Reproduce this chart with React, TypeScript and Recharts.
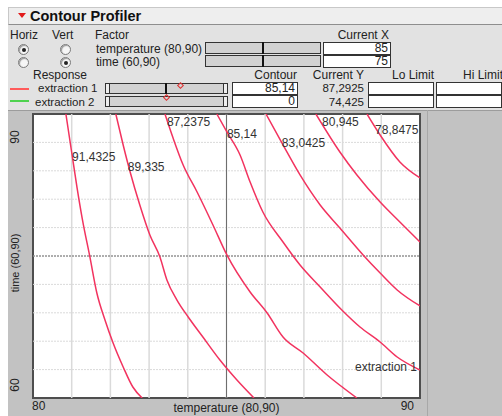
import React from 'react';
import { LineChart, Line, XAxis, YAxis, ReferenceLine, ReferenceArea, ReferenceDot } from 'recharts';

// contour levels of extraction 1, left to right
const contourLabels = ['91,4325', '89,335', '87,2375', '85,14', '83,0425', '80,945', '78,8475'];

// traced contour points: T = temperature, t = time
const contour1 = [
  { T: 80.85, t: 90 }, { T: 81.01, t: 85.67 }, { T: 81.14, t: 82.18 }, { T: 81.27, t: 79.01 },
  { T: 81.47, t: 74.9 }, { T: 81.65, t: 71.09 }, { T: 81.86, t: 68.24 }, { T: 82.07, t: 65.81 },
  { T: 82.33, t: 63.28 }, { T: 82.58, t: 61.16 }, { T: 82.82, t: 60 },
];
const contour2 = [
  { T: 82.14, t: 90 }, { T: 82.33, t: 86.73 }, { T: 82.51, t: 83.87 }, { T: 82.76, t: 80.39 },
  { T: 83.02, t: 77.22 }, { T: 83.28, t: 74.9 }, { T: 83.46, t: 72.47 }, { T: 83.72, t: 70.35 },
  { T: 84.01, t: 68.56 }, { T: 84.39, t: 66.44 }, { T: 84.83, t: 64.01 }, { T: 85.27, t: 61.9 },
  { T: 85.71, t: 60 },
];
const contour3 = [
  { T: 83.41, t: 90 }, { T: 83.62, t: 87.46 }, { T: 83.88, t: 84.61 }, { T: 84.24, t: 81.76 },
  { T: 84.65, t: 78.28 }, { T: 85.01, t: 75.11 }, { T: 85.61, t: 71.2 }, { T: 86.05, t: 68.98 },
  { T: 86.46, t: 66.44 }, { T: 86.98, t: 64.75 }, { T: 87.6, t: 62.43 }, { T: 88.37, t: 60 },
];
const contour4 = [
  { T: 84.75, t: 90 }, { T: 85.01, t: 88.1 }, { T: 85.35, t: 85.67 }, { T: 85.61, t: 82.82 },
  { T: 85.94, t: 79.65 }, { T: 86.46, t: 76.48 }, { T: 86.9, t: 74.05 }, { T: 87.42, t: 71.73 },
  { T: 87.98, t: 69.3 }, { T: 88.45, t: 67.5 }, { T: 88.97, t: 65.92 }, { T: 89.41, t: 64.33 },
  { T: 90, t: 62.96 },
];
const contour5 = [
  { T: 86.02, t: 90 }, { T: 86.46, t: 86.73 }, { T: 86.9, t: 83.56 }, { T: 87.42, t: 80.39 },
  { T: 87.93, t: 77.96 }, { T: 88.53, t: 75.11 }, { T: 88.97, t: 73.2 }, { T: 89.41, t: 71.41 },
  { T: 90, t: 69.72 },
];
const contour6 = [
  { T: 87.31, t: 90 }, { T: 87.93, t: 85.99 }, { T: 88.37, t: 83.56 }, { T: 88.97, t: 80.7 },
  { T: 89.48, t: 78.59 }, { T: 90, t: 76.48 },
];
const contour7 = [
  { T: 88.63, t: 90 }, { T: 88.97, t: 87.78 }, { T: 89.48, t: 84.93 }, { T: 90, t: 83.24 },
];
const contours = [contour1, contour2, contour3, contour4, contour5, contour6, contour7];

// where JMP put each contour's label (temperature, time)
const labelTemp = [81.01, 82.45, 83.46, 85.01, 86.43, 87.47, 88.84];
const labelTime = [85.46, 84.4, 89.15, 87.89, 86.94, 89.15, 88.31];

const xTicks = [80, 90];
const yTicks = [60, 90];
const tempGrid = [81, 82, 83, 84, 85, 86, 87, 88, 89];
const timeGrid = [63, 66, 69, 72, 75, 78, 81, 84, 87];

const currentTemp = 85;
const currentTime = 75;
const contourEx1 = '85,14';
const contourEx2 = '0';
const currentYEx1 = '87,2925';
const currentYEx2 = '74,425';

const FONT = '"Liberation Sans", Arial, sans-serif';
const RED = '#f2335f';

const XTick = (props: any) => {
  const { x, y, payload } = props;
  const first = payload.value === xTicks[0];
  return (
    <text x={first ? x - 1 : x - 5} y={y + 12} textAnchor={first ? 'start' : 'end'} fontSize={12} fill="#222" fontFamily={FONT}>
      {payload.value}
    </text>
  );
};

const YTick = (props: any) => {
  const { x, y, payload } = props;
  const cx = x - 18;
  const cy = payload.value === yTicks[1] ? y + 18 : y - 13;
  return (
    <text x={cx} y={cy} transform={`rotate(-90, ${cx}, ${cy})`} textAnchor="middle" dominantBaseline="central" fontSize={12} fill="#222" fontFamily={FONT}>
      {payload.value}
    </text>
  );
};

const YLabel = (props: any) => {
  const vb = props.viewBox || { x: 0, y: 0, width: 33, height: 284 };
  const cx = vb.x + 15;
  const cy = vb.y + vb.height / 2 + 7;
  return (
    <text x={cx} y={cy} transform={`rotate(-90, ${cx}, ${cy})`} textAnchor="middle" dominantBaseline="central" fontSize={11} fill="#222" fontFamily={FONT}>
      time (60,90)
    </text>
  );
};

const abs = (left: number, top: number, extra: React.CSSProperties = {}): React.CSSProperties => ({
  position: 'absolute', left, top, ...extra,
});

const Txt = ({ x, y, children, right, size = 12 }: any) => (
  <div
    style={abs(right ? x - 120 : x, y - 5.5, {
      width: right ? 120 : undefined,
      textAlign: right ? 'right' : 'left',
      fontSize: size, lineHeight: '11px', color: '#222', whiteSpace: 'nowrap',
    })}
  >
    {children}
  </div>
);

const Radio = ({ x, y, on }: any) => (
  <div style={abs(x - 5, y - 5, { width: 9, height: 9, borderRadius: '50%', background: '#f6f6f6', border: '1px solid #7a7a7a', boxShadow: 'inset 1px 1px 1px #999' })}>
    {on && <div style={abs(2.5, 2.5, { width: 4, height: 4, borderRadius: '50%', background: '#222' })} />}
  </div>
);

const Box = ({ x, y, w, h, value }: any) => (
  <div style={abs(x, y, { width: w, height: h, boxSizing: 'border-box', background: '#fff', border: '1px solid #333', fontSize: 12, lineHeight: `${h - 2}px`, textAlign: 'right', paddingRight: 2, color: '#222', overflow: 'hidden' })}>
    {value}
  </div>
);

const Diamond = ({ x, y }: any) => (
  <div style={abs(x - 3, y - 3, { width: 5, height: 5, border: '1px solid #e03030', transform: 'rotate(45deg)', boxSizing: 'border-box' })} />
);

export default function App() {
  return (
    <div style={abs(0, 0, { width: 502, height: 416, background: '#fff', fontFamily: FONT, overflow: 'hidden' })}>
      {/* title bar */}
      <div style={abs(8, 7, { width: 494, height: 18, boxSizing: 'border-box', background: '#eeeeee', borderTop: '1px solid #c8c8c8', borderLeft: '1px solid #c8c8c8', borderBottom: '1px solid #8e8e8e' })} />
      <div style={abs(18, 13, { width: 0, height: 0, borderLeft: '4px solid transparent', borderRight: '4px solid transparent', borderTop: '5px solid #e21b1b' })} />
      <div style={abs(30, 8, { fontSize: 14.5, fontWeight: 700, lineHeight: '17px', color: '#111' })}>Contour Profiler</div>

      {/* controls */}
      <div style={abs(8, 25, { width: 494, height: 85, background: '#e2e2e2' })} />
      <Txt x={10} y={35}>Horiz</Txt>
      <Txt x={52} y={35}>Vert</Txt>
      <Txt x={95} y={35}>Factor</Txt>
      <Txt x={389} y={35} right>Current X</Txt>

      <Radio x={23} y={49} on />
      <Radio x={65} y={49} />
      <Radio x={23} y={62} />
      <Radio x={65} y={62} on />
      <Txt x={96} y={49}>temperature (80,90)</Txt>
      <Txt x={96} y={62}>time (60,90)</Txt>

      <div style={abs(205, 42, { width: 116, height: 12, boxSizing: 'border-box', background: '#d2d2d2', border: '1px solid #333' })} />
      <div style={abs(205, 55, { width: 116, height: 12, boxSizing: 'border-box', background: '#d2d2d2', border: '1px solid #333' })} />
      <div style={abs(262, 42, { width: 2, height: 12, background: '#111' })} />
      <div style={abs(262, 55, { width: 2, height: 12, background: '#111' })} />
      <Box x={323} y={42} w={68} h={13} value={currentTemp} />
      <Box x={323} y={55} w={68} h={13} value={currentTime} />

      <Txt x={33} y={75}>Response</Txt>
      <Txt x={297} y={75} right>Contour</Txt>
      <Txt x={364} y={75} right>Current Y</Txt>
      <Txt x={392} y={75}>Lo Limit</Txt>
      <Txt x={463} y={75}>Hi Limit</Txt>

      <div style={abs(10, 88, { width: 19, height: 2, background: '#ff5b5b' })} />
      <div style={abs(10, 100, { width: 19, height: 2, background: '#4fd24f' })} />
      <Txt x={38} y={88} size={11.5}>extraction 1</Txt>
      <Txt x={35} y={102} size={11.5}>extraction 2</Txt>

      {[83, 96].map((top) => (
        <React.Fragment key={top}>
          <div style={abs(105, top, { width: 5, height: 11, boxSizing: 'border-box', border: '1px solid #333', background: '#eee' })} />
          <div style={abs(109, top, { width: 115, height: 11, boxSizing: 'border-box', background: '#d2d2d2', border: '1px solid #333' })} />
          <div style={abs(223, top, { width: 5, height: 11, boxSizing: 'border-box', border: '1px solid #333', background: '#eee' })} />
        </React.Fragment>
      ))}
      <div style={abs(165, 83, { width: 2, height: 11, background: '#111' })} />
      <Diamond x={181} y={86} />
      <Diamond x={167} y={98} />

      <Box x={232} y={82} w={66} h={13} value={contourEx1} />
      <Box x={232} y={95} w={66} h={13} value={contourEx2} />
      <Txt x={364} y={88} right size={11.5}>{currentYEx1}</Txt>
      <Txt x={364} y={102} right size={11.5}>{currentYEx2}</Txt>
      <Box x={368} y={82} w={66} h={13} value="" />
      <Box x={368} y={95} w={66} h={13} value="" />
      <Box x={436} y={82} w={66} h={13} value="" />
      <Box x={436} y={95} w={66} h={13} value="" />

      {/* plot surround */}
      <div style={abs(8, 110, { width: 494, height: 306, background: '#c2c2c2', borderTop: '1px solid #9c9c9c', boxSizing: 'border-box' })} />
      <div style={abs(427, 110, { width: 1, height: 306, background: '#a8a8a8' })} />

      <div style={abs(0, 110)}>
        <LineChart width={427} height={306} margin={{ top: 4, right: 7, bottom: 0, left: 0 }}>
          <XAxis
            dataKey="T"
            type="number"
            domain={[80, 90]}
            ticks={xTicks}
            allowDataOverflow
            height={18}
            axisLine={false}
            tickLine={false}
            tickSize={0}
            tickMargin={0}
            tick={<XTick />}
            label={{ value: 'temperature (80,90)', position: 'center', fontSize: 12, fill: '#222', dy: 1 }}
          />
          <YAxis
            dataKey="t"
            type="number"
            domain={[60, 90]}
            ticks={yTicks}
            allowDataOverflow
            width={33}
            axisLine={false}
            tickLine={false}
            tickSize={0}
            tickMargin={0}
            tick={<YTick />}
            label={{ content: <YLabel /> }}
          />
          <ReferenceArea x1={80} x2={90} y1={60} y2={90} fill="#fff" fillOpacity={1} stroke="none" />
          {tempGrid.map((v) => (
            <ReferenceLine key={'vx' + v} x={v} stroke="#dadada" strokeWidth={1.5} />
          ))}
          {timeGrid.map((v) => (
            <ReferenceLine key={'hy' + v} y={v} stroke="#dadada" strokeWidth={1} strokeDasharray="2 1" />
          ))}
          <ReferenceLine x={currentTemp} stroke="#6e6e6e" strokeWidth={1} />
          <ReferenceLine y={currentTime} stroke="#6e6e6e" strokeWidth={1} strokeDasharray="2 1" />
          {contours.map((c, i) => (
            <Line
              key={contourLabels[i]}
              data={c}
              dataKey="t"
              type="monotone"
              stroke={RED}
              strokeWidth={1.5}
              dot={false}
              isAnimationActive={false}
            />
          ))}
          {contourLabels.map((lab, i) => (
            <ReferenceDot
              key={'lab' + lab}
              x={labelTemp[i]}
              y={labelTime[i]}
              r={0}
              fill="none"
              stroke="none"
              label={{ value: lab, position: 'right', offset: 0, fontSize: 12, fill: '#333' }}
            />
          ))}
          <ReferenceDot
            x={88.32}
            y={63.28}
            r={0}
            fill="none"
            stroke="none"
            label={{ value: 'extraction 1', position: 'right', offset: 0, fontSize: 12, fill: '#333' }}
          />
          <ReferenceArea x1={80} x2={90} y1={60} y2={90} fill="none" stroke="#4e4e4e" strokeWidth={2} />
        </LineChart>
      </div>
    </div>
  );
}
